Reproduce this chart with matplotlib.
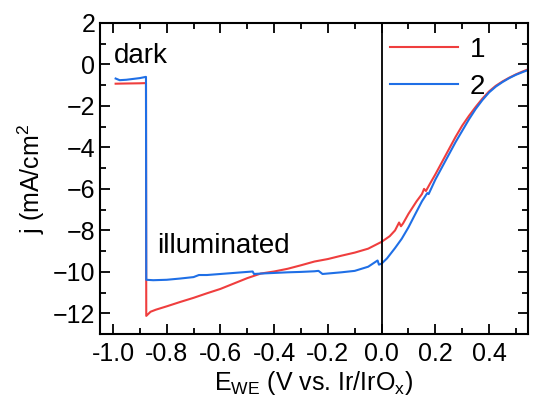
import numpy as np
import matplotlib
matplotlib.use("Agg")
from matplotlib import pyplot as plt
from matplotlib.ticker import MultipleLocator

plt.rcParams['font.family'] = ['Liberation Sans', 'DejaVu Sans']
plt.rcParams['mathtext.fontset'] = 'custom'
plt.rcParams['mathtext.rm'] = 'Liberation Sans'
plt.rcParams['mathtext.it'] = 'Liberation Sans'

# curve 1 (red)
x1 = [-0.99, -0.95, -0.90, -0.877, -0.876, -0.86, -0.84, -0.80, -0.75, -0.70, -0.65,
      -0.60, -0.55, -0.50, -0.45, -0.40, -0.35, -0.30, -0.25, -0.20, -0.15, -0.10,
      -0.05, 0.0, 0.03, 0.05, 0.065, 0.072, 0.08, 0.10, 0.13, 0.15, 0.158, 0.165,
      0.18, 0.20, 0.225, 0.25, 0.275, 0.30, 0.325, 0.35, 0.375, 0.40, 0.425, 0.45,
      0.475, 0.50, 0.525, 0.545]
y1 = [-0.93, -0.92, -0.91, -0.90, -12.12, -11.92, -11.82, -11.66, -11.45, -11.25, -11.03,
      -10.82, -10.56, -10.30, -10.08, -9.98, -9.85, -9.68, -9.50, -9.38, -9.22, -9.07,
      -8.88, -8.55, -8.28, -8.0, -7.62, -7.8, -7.66, -7.2, -6.6, -6.25, -6.0, -6.1,
      -5.75, -5.3, -4.7, -4.1, -3.5, -2.95, -2.48, -2.05, -1.65, -1.3, -1.03, -0.82,
      -0.64, -0.48, -0.34, -0.24]

# curve 2 (blue)
x2 = [-0.99, -0.975, -0.95, -0.90, -0.877, -0.876, -0.85, -0.80, -0.75, -0.70, -0.68,
      -0.65, -0.60, -0.55, -0.50, -0.48, -0.475, -0.45, -0.40, -0.35, -0.30, -0.25,
      -0.235, -0.22, -0.15, -0.10, -0.05, -0.015, -0.01, 0.0, 0.02, 0.05, 0.075, 0.10,
      0.125, 0.15, 0.17, 0.175, 0.20, 0.225, 0.25, 0.275, 0.30, 0.325, 0.35, 0.375,
      0.40, 0.425, 0.45, 0.475, 0.50, 0.525, 0.545]
y2 = [-0.68, -0.76, -0.74, -0.66, -0.60, -10.38, -10.40, -10.38, -10.32, -10.25, -10.15,
      -10.15, -10.10, -10.05, -10.0, -9.98, -10.10, -10.08, -10.05, -10.02, -10.0, -9.97,
      -9.95, -10.10, -10.02, -9.95, -9.75, -9.45, -9.65, -9.6, -9.35, -8.85, -8.4, -7.85,
      -7.22, -6.6, -6.2, -6.25, -5.55, -4.95, -4.35, -3.75, -3.2, -2.65, -2.15, -1.72,
      -1.35, -1.07, -0.85, -0.66, -0.5, -0.37, -0.27]

labels = ['1', '2']
colors = ['#ef3e3e', '#1f6fe6']

fig = plt.figure(figsize=(5.35, 4.09), dpi=100)
ax = fig.add_axes([0.187, 0.183, 0.8, 0.761])

ax.plot(x1, y1, color=colors[0], lw=1.5, label=labels[0])
ax.plot(x2, y2, color=colors[1], lw=1.5, label=labels[1])
ax.axvline(0.0, color='black', lw=1.3)

ax.set_xlim(-1.048, 0.545)
ax.set_ylim(-13, 2)
ax.xaxis.set_major_locator(MultipleLocator(0.2))
ax.xaxis.set_minor_locator(MultipleLocator(0.1))
ax.yaxis.set_major_locator(MultipleLocator(2))
ax.yaxis.set_minor_locator(MultipleLocator(1))
ax.set_xticks(np.arange(-1.0, 0.41, 0.2))
ax.set_xticklabels(['-1.0', '-0.8', '-0.6', '-0.4', '-0.2', '0.0', '0.2', '0.4'])
ax.tick_params(which='both', direction='in', top=True, right=True, labelsize=18, width=1.3)
ax.tick_params(which='major', length=7)
ax.tick_params(which='minor', length=4)
ax.tick_params(axis='x', pad=6)
for s in ax.spines.values():
    s.set_linewidth(1.5)

ax.set_xlabel(r'E$_{\mathrm{WE}}$ (V vs. Ir/IrO$_{\mathrm{x}}$)', fontsize=18, labelpad=2)
ax.set_ylabel(r'j (mA/cm$^{2}$', fontsize=18, labelpad=4)

ax.text(-0.995, 0.05, 'dark', fontsize=20)
ax.text(-0.835, -9.1, 'illuminated', fontsize=20)

ax.legend(loc='upper left', bbox_to_anchor=(0.678, 0.955), frameon=False, fontsize=20,
          handlelength=2.45, handletextpad=0.4, labelspacing=0.4, borderpad=0,
          borderaxespad=0)

fig.savefig('out.png', dpi=100)
